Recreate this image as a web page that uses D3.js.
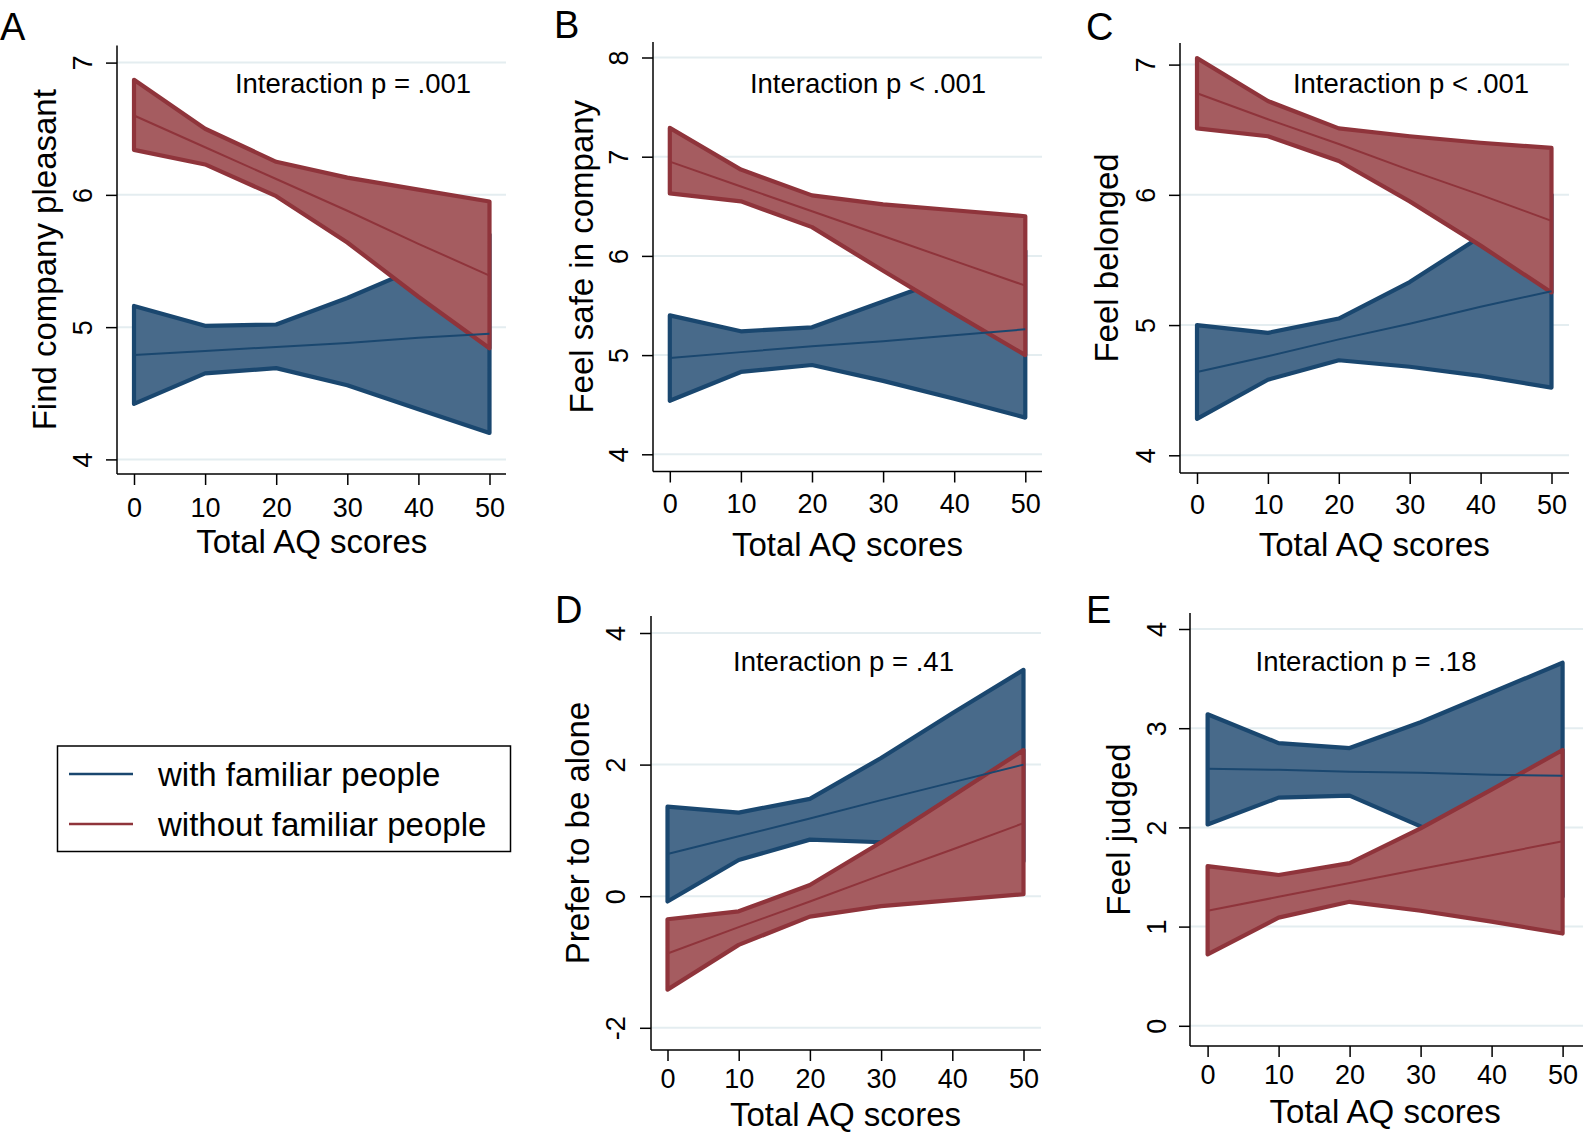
<!DOCTYPE html>
<html>
<head>
<meta charset="utf-8">
<script src="https://cdn.jsdelivr.net/npm/d3@7"></script>
<style>
  body { margin: 0; background: #fff; }
  svg { display: block; font-family: "Liberation Sans", Arial, sans-serif; }
</style>
</head>
<body>
<svg id="chart" width="1583" height="1137"></svg>
<script>
// AQ scores where the margins were evaluated
var aqScores = [0, 10, 20, 30, 40, 50];
var xTicks = [0, 10, 20, 30, 40, 50];

// A - Find company pleasant
var pleasantTicks = [4, 5, 6, 7];
var pleasantWithMean = [4.79, 4.82, 4.85, 4.88, 4.92, 4.95];
var pleasantWithLo = [4.42, 4.65, 4.69, 4.56, 4.38, 4.20];
var pleasantWithHi = [5.16, 5.01, 5.02, 5.22, 5.45, 5.70];
var pleasantWithoutMean = [6.60, 6.36, 6.12, 5.88, 5.63, 5.39];
var pleasantWithoutLo = [6.34, 6.23, 5.99, 5.64, 5.23, 4.84];
var pleasantWithoutHi = [6.87, 6.50, 6.25, 6.13, 6.04, 5.95];

// B - Feel safe in company
var safeTicks = [4, 5, 6, 7, 8];
var safeWithMean = [4.97, 5.03, 5.09, 5.14, 5.20, 5.26];
var safeWithLo = [4.54, 4.83, 4.90, 4.74, 4.56, 4.37];
var safeWithHi = [5.40, 5.24, 5.28, 5.54, 5.80, 6.05];
var safeWithoutMean = [6.95, 6.70, 6.45, 6.20, 5.95, 5.70];
var safeWithoutLo = [6.63, 6.55, 6.29, 5.85, 5.42, 5.00];
var safeWithoutHi = [7.29, 6.87, 6.61, 6.52, 6.46, 6.40];

// C - Feel belonged
var belongTicks = [4, 5, 6, 7];
var belongWithMean = [4.64, 4.76, 4.89, 5.01, 5.14, 5.26];
var belongWithLo = [4.28, 4.58, 4.73, 4.68, 4.61, 4.52];
var belongWithHi = [5.00, 4.94, 5.05, 5.33, 5.68, 6.00];
var belongWithoutMean = [6.78, 6.58, 6.39, 6.19, 6.00, 5.80];
var belongWithoutLo = [6.51, 6.45, 6.26, 5.95, 5.61, 5.25];
var belongWithoutHi = [7.05, 6.72, 6.51, 6.45, 6.40, 6.36];

// D - Prefer to be alone
var aloneTicks = [-2, 0, 2, 4];
var aloneWithMean = [0.64, 0.91, 1.18, 1.46, 1.73, 2.00];
var aloneWithLo = [-0.08, 0.55, 0.86, 0.82, 0.68, 0.53];
var aloneWithHi = [1.36, 1.27, 1.48, 2.10, 2.78, 3.44];
var aloneWithoutMean = [-0.87, -0.47, -0.08, 0.32, 0.71, 1.11];
var aloneWithoutLo = [-1.42, -0.74, -0.31, -0.15, -0.06, 0.03];
var aloneWithoutHi = [-0.35, -0.23, 0.17, 0.82, 1.52, 2.22];

// E - Feel judged
var judgedTicks = [0, 1, 2, 3, 4];
var judgedWithMean = [2.59, 2.58, 2.56, 2.55, 2.53, 2.52];
var judgedWithLo = [2.03, 2.30, 2.32, 2.01, 1.66, 1.30];
var judgedWithHi = [3.14, 2.85, 2.80, 3.06, 3.36, 3.66];
var judgedWithoutMean = [1.16, 1.30, 1.44, 1.58, 1.72, 1.86];
var judgedWithoutLo = [0.72, 1.09, 1.25, 1.16, 1.05, 0.93];
var judgedWithoutHi = [1.61, 1.52, 1.64, 1.99, 2.38, 2.78];

var seriesNames = ["with familiar people", "without familiar people"];

var blueLine = "#1a476f", blueFill = "#486a8a";
var redLine = "#8f343b", redFill = "#a55c60";
var gridColor = "#e4edf0";

var svg = d3.select("#chart");

//layout of each panel (pixel frame of the plot region)
var panels = [
  { letter: "A", ytitle: "Find company pleasant", note: "Interaction p = .001", ticks: pleasantTicks,
    w: [pleasantWithMean, pleasantWithLo, pleasantWithHi], wo: [pleasantWithoutMean, pleasantWithoutLo, pleasantWithoutHi],
    axisX: 117, top: 45.5, bottom: 474, right: 506, x0: 134, x1: 489.5, yLo: 459.4, yHi: 62.6,
    titleX: 56, noteX: 353, noteY: 93, letterX: 0, letterY: 40, tickLabX: -25, xLabY: 43, xTitleY: 79 },
  { letter: "B", ytitle: "Feel safe in company", note: "Interaction p < .001", ticks: safeTicks,
    w: [safeWithMean, safeWithLo, safeWithHi], wo: [safeWithoutMean, safeWithoutLo, safeWithoutHi],
    axisX: 653, top: 42, bottom: 471.5, right: 1042, x0: 669.8, x1: 1025.3, yLo: 454.3, yHi: 57.5,
    titleX: 593, noteX: 868, noteY: 93, letterX: 554, letterY: 38, tickLabX: -25, xLabY: 41, xTitleY: 84 },
  { letter: "C", ytitle: "Feel belonged", note: "Interaction p < .001", ticks: belongTicks,
    w: [belongWithMean, belongWithLo, belongWithHi], wo: [belongWithoutMean, belongWithoutLo, belongWithoutHi],
    axisX: 1180, top: 43, bottom: 473, right: 1569, x0: 1197, x1: 1551.5, yLo: 455.3, yHi: 64.6,
    titleX: 1118, noteX: 1411, noteY: 93, letterX: 1086, letterY: 40, tickLabX: -25, xLabY: 41, xTitleY: 83 },
  { letter: "D", ytitle: "Prefer to be alone", note: "Interaction p = .41", ticks: aloneTicks,
    w: [aloneWithMean, aloneWithLo, aloneWithHi], wo: [aloneWithoutMean, aloneWithoutLo, aloneWithoutHi],
    axisX: 651, top: 616, bottom: 1050, right: 1041, x0: 667.5, x1: 1023.5, yLo: 1027.8, yHi: 633,
    titleX: 589, noteX: 843.5, noteY: 671, letterX: 555, letterY: 623, tickLabX: -26, xLabY: 38, xTitleY: 76 },
  { letter: "E", ytitle: "Feel judged", note: "Interaction p = .18", ticks: judgedTicks,
    w: [judgedWithMean, judgedWithLo, judgedWithHi], wo: [judgedWithoutMean, judgedWithoutLo, judgedWithoutHi],
    axisX: 1190, top: 613, bottom: 1046, right: 1583, x0: 1207.6, x1: 1562.6, yLo: 1025.8, yHi: 629,
    titleX: 1130, noteX: 1366, noteY: 671, letterX: 1086, letterY: 623, tickLabX: -24, xLabY: 38, xTitleY: 77 }
];

panels.forEach(function (p) {
  var x = d3.scaleLinear().domain([0, 50]).range([p.x0, p.x1]);
  var y = d3.scaleLinear()
    .domain([p.ticks[0], p.ticks[p.ticks.length - 1]])
    .range([p.yLo, p.yHi]);
  var g = svg.append("g");

  //gridlines
  g.selectAll("line.grid").data(p.ticks).enter().append("line")
    .attr("class", "grid")
    .attr("x1", p.axisX).attr("x2", p.right)
    .attr("y1", function (d) { return y(d); })
    .attr("y2", function (d) { return y(d); })
    .attr("stroke", gridColor).attr("stroke-width", 2);

  var band = function (lo, hi) {
    return d3.area()
      .x(function (d, i) { return x(aqScores[i]); })
      .y0(function (d, i) { return y(lo[i]); })
      .y1(function (d, i) { return y(hi[i]); })(aqScores);
  };
  var line = function (vals) {
    return d3.line()
      .x(function (d, i) { return x(aqScores[i]); })
      .y(function (d, i) { return y(vals[i]); })(aqScores);
  };

  // CI bands: blue first, red drawn over it
  g.append("path").attr("d", band(p.w[1], p.w[2]))
    .attr("fill", blueFill).attr("stroke", blueLine)
    .attr("stroke-width", 4.2).attr("stroke-linejoin", "round");
  g.append("path").attr("d", band(p.wo[1], p.wo[2]))
    .attr("fill", redFill).attr("stroke", redLine)
    .attr("stroke-width", 4.2).attr("stroke-linejoin", "round");
  // predicted lines on top
  g.append("path").attr("d", line(p.w[0]))
    .attr("fill", "none").attr("stroke", blueLine).attr("stroke-width", 2);
  g.append("path").attr("d", line(p.wo[0]))
    .attr("fill", "none").attr("stroke", redLine).attr("stroke-width", 2);

  //y axis
  var yAxis = g.append("g")
    .attr("transform", "translate(" + p.axisX + ",0)")
    .call(d3.axisLeft(y).tickValues(p.ticks).tickSize(11)
      .tickFormat(function (d) { return String(d); }));
  yAxis.select(".domain").remove();
  yAxis.selectAll(".tick line").attr("stroke", "#000").attr("stroke-width", 1.5);
  yAxis.selectAll(".tick text")
    .attr("x", null).attr("dy", null)
    .attr("transform", "translate(" + p.tickLabX + ",0) rotate(-90)")
    .attr("text-anchor", "middle")
    .attr("font-size", 27).attr("fill", "#000")
    .style("font-family", "Liberation Sans, Arial, sans-serif");

  //x axis
  var xAxis = g.append("g")
    .attr("transform", "translate(0," + p.bottom + ")")
    .call(d3.axisBottom(x).tickValues(xTicks).tickSize(11));
  xAxis.select(".domain").remove();
  xAxis.selectAll(".tick line").attr("stroke", "#000").attr("stroke-width", 1.5);
  xAxis.selectAll(".tick text")
    .attr("y", p.xLabY).attr("dy", null)
    .attr("font-size", 27).attr("fill", "#000")
    .style("font-family", "Liberation Sans, Arial, sans-serif");

  // axis lines
  g.append("line")
    .attr("x1", p.axisX).attr("x2", p.axisX).attr("y1", p.top).attr("y2", p.bottom)
    .attr("stroke", "#000").attr("stroke-width", 1.5);
  g.append("line")
    .attr("x1", p.axisX).attr("x2", p.right).attr("y1", p.bottom).attr("y2", p.bottom)
    .attr("stroke", "#000").attr("stroke-width", 1.5);

  // titles
  g.append("text")
    .attr("x", (p.x0 + p.x1) / 2).attr("y", p.bottom + p.xTitleY)
    .attr("text-anchor", "middle").attr("font-size", 33)
    .text("Total AQ scores");
  g.append("text")
    .attr("transform", "translate(" + p.titleX + "," + (p.top + p.bottom) / 2 + ") rotate(-90)")
    .attr("text-anchor", "middle").attr("font-size", 33)
    .text(p.ytitle);
  g.append("text")
    .attr("x", p.noteX).attr("y", p.noteY)
    .attr("text-anchor", "middle").attr("font-size", 27.5)
    .text(p.note);
  g.append("text")
    .attr("x", p.letterX).attr("y", p.letterY)
    .attr("font-size", 38)
    .text(p.letter);
});

//legend
var legend = svg.append("g");
legend.append("rect")
  .attr("x", 57.5).attr("y", 746).attr("width", 453).attr("height", 105.5)
  .attr("fill", "#fff").attr("stroke", "#000").attr("stroke-width", 1.5);
var legendRows = legend.selectAll("g.row").data(seriesNames).enter().append("g")
  .attr("class", "row")
  .attr("transform", function (d, i) { return "translate(0," + (774 + i * 50) + ")"; });
legendRows.append("line")
  .attr("x1", 69).attr("x2", 133)
  .attr("stroke", function (d, i) { return i === 0 ? blueLine : redLine; })
  .attr("stroke-width", 2.5);
legendRows.append("text")
  .attr("x", 158).attr("y", 12)
  .attr("font-size", 33)
  .text(function (d) { return d; });
</script>
</body>
</html>
